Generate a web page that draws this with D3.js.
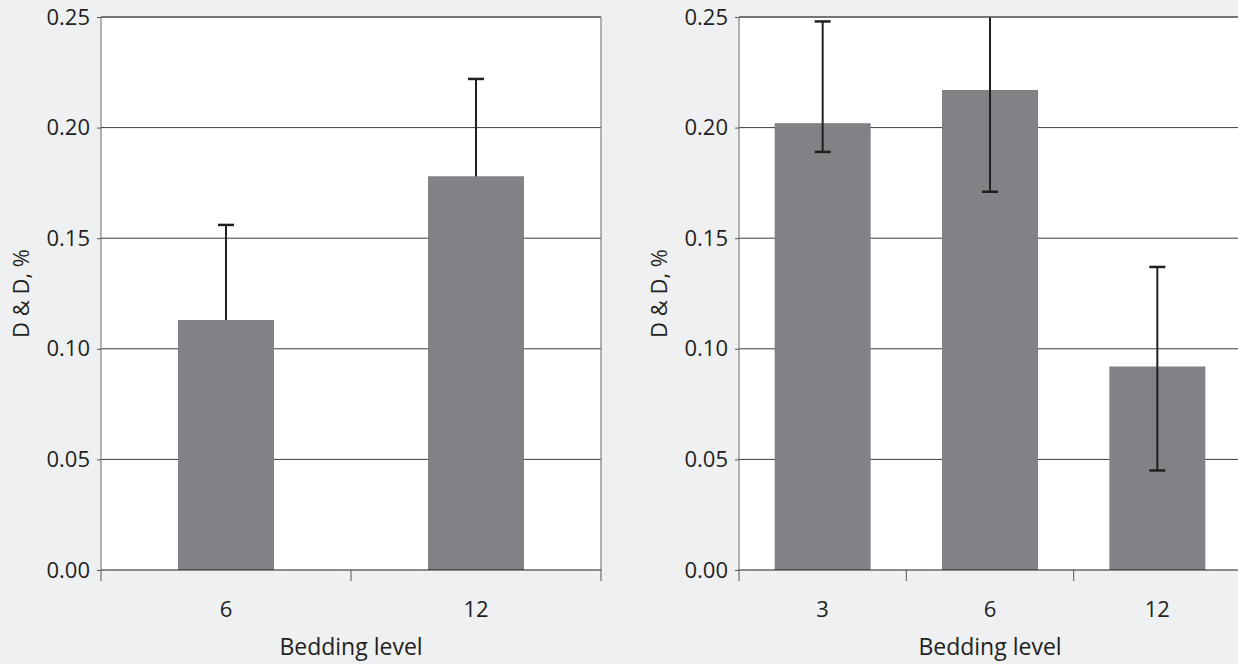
<!DOCTYPE html>
<html>
<head>
<meta charset="utf-8">
<script src="https://cdn.jsdelivr.net/npm/d3@7"></script>
<style>
  html, body { margin: 0; padding: 0; background: #eff0f2; }
  svg { display: block; }
  text { font-family: "Open Sans", Lato, sans-serif; fill: #231f20; }
</style>
</head>
<body>
<svg id="chart" width="1238" height="664"></svg>
<script>
// ---- Data ----
const yTicks = [0.00, 0.05, 0.10, 0.15, 0.20, 0.25];
const yTitle = "D & D, %";
const xTitle = "Bedding level";

const leftCategories = ["6", "12"];
const leftMeans = [0.113, 0.178];
const leftUpper = [0.156, 0.222];
const leftLower = [0.070, 0.134];

const rightCategories = ["3", "6", "12"];
const rightMeans = [0.202, 0.217, 0.092];
const rightUpper = [0.248, 0.265, 0.137];
const rightLower = [0.189, 0.171, 0.045];

// ---- Layout ----
const plotTop = 17, plotBottom = 570;
const barW = 96, capW = 16;
const tickFont = "22px", titleFont = "23px";
const panels = [
  { x0: 101, x1: 601, cats: leftCategories, means: leftMeans, up: leftUpper, lo: leftLower, errOnTop: false, rightBorder: true },
  { x0: 739, x1: 1241, cats: rightCategories, means: rightMeans, up: rightUpper, lo: rightLower, errOnTop: true, rightBorder: false }
];

const svg = d3.select("#chart");
const y = d3.scaleLinear().domain([0, 0.25]).range([plotBottom, plotTop]);

panels.forEach((p, pi) => {
  const g = svg.append("g");
  const x = d3.scaleBand().domain(p.cats).range([p.x0, p.x1]).padding(0);

  g.append("rect").attr("x", p.x0).attr("y", plotTop)
    .attr("width", p.x1 - p.x0).attr("height", plotBottom - plotTop)
    .attr("fill", "#ffffff");

  const clipId = "clip" + pi;
  svg.append("clipPath").attr("id", clipId).append("rect")
    .attr("x", p.x0).attr("y", plotTop).attr("width", p.x1 - p.x0).attr("height", plotBottom - plotTop);

  g.selectAll(".grid").data(yTicks.filter(t => t > 0 && t < 0.25)).enter()
    .append("line")
    .attr("x1", p.x0).attr("x2", p.x1)
    .attr("y1", d => y(d)).attr("y2", d => y(d))
    .attr("stroke", "#3a3a3a").attr("stroke-width", 1);

  const data = p.cats.map((c, i) => ({ c, m: p.means[i], u: p.up[i], l: p.lo[i] }));
  const plot = g.append("g").attr("clip-path", `url(#${clipId})`);
  const cx = d => x(d.c) + x.bandwidth() / 2;

  const drawErr = () => {
    const e = plot.selectAll(".err" + pi).data(data).enter().append("g");
    e.append("line")
      .attr("x1", cx).attr("x2", cx)
      .attr("y1", d => y(d.l)).attr("y2", d => y(d.u))
      .attr("stroke", "#231f20").attr("stroke-width", 2);
    e.append("line")
      .attr("x1", d => cx(d) - capW / 2).attr("x2", d => cx(d) + capW / 2)
      .attr("y1", d => y(d.u)).attr("y2", d => y(d.u))
      .attr("stroke", "#231f20").attr("stroke-width", 2.5);
    e.append("line")
      .attr("x1", d => cx(d) - capW / 2).attr("x2", d => cx(d) + capW / 2)
      .attr("y1", d => y(d.l)).attr("y2", d => y(d.l))
      .attr("stroke", "#231f20").attr("stroke-width", 2.5);
  };
  const drawBars = () => {
    plot.selectAll(".bar" + pi).data(data).enter().append("rect")
      .attr("x", d => cx(d) - barW / 2)
      .attr("width", barW)
      .attr("y", d => y(d.m))
      .attr("height", d => y(0) - y(d.m))
      .attr("fill", "#818286");
  };
  if (p.errOnTop) { drawBars(); drawErr(); } else { drawErr(); drawBars(); }

  g.append("line").attr("x1", p.x0).attr("x2", p.x1).attr("y1", plotTop).attr("y2", plotTop)
    .attr("stroke", "#4a4a4a").attr("stroke-width", 1.6);
  g.append("line").attr("x1", p.x0).attr("x2", p.x0).attr("y1", plotTop).attr("y2", plotBottom)
    .attr("stroke", "#6a6a6a").attr("stroke-width", 1);
  if (p.rightBorder) {
    g.append("line").attr("x1", p.x1).attr("x2", p.x1).attr("y1", plotTop).attr("y2", plotBottom)
      .attr("stroke", "#6a6a6a").attr("stroke-width", 1);
  }

  const yAxis = d3.axisLeft(y).tickValues(yTicks).tickFormat(d3.format(".2f")).tickSize(4).tickPadding(7);
  const ya = g.append("g").attr("transform", `translate(${p.x0},0)`).call(yAxis);
  ya.select(".domain").remove();
  ya.selectAll(".tick line").attr("stroke", "#555");
  ya.selectAll("text").style("font-size", tickFont).attr("fill", "#231f20")
    .style("font-family", "'Open Sans', Lato, sans-serif");

  g.append("line").attr("x1", p.x0).attr("x2", p.x1).attr("y1", plotBottom).attr("y2", plotBottom)
    .attr("stroke", "#231f20").attr("stroke-width", 1.2);
  const bounds = p.cats.map(c => x(c)).concat([x(p.cats[p.cats.length - 1]) + x.bandwidth()]);
  g.selectAll(".xt" + pi).data(bounds).enter().append("line")
    .attr("x1", d => d).attr("x2", d => d)
    .attr("y1", plotBottom).attr("y2", plotBottom + 11)
    .attr("stroke", "#555").attr("stroke-width", 1);

  g.selectAll(".xl" + pi).data(p.cats).enter().append("text")
    .attr("x", d => x(d) + x.bandwidth() / 2).attr("y", 617)
    .attr("text-anchor", "middle").style("font-size", tickFont).text(d => d);

  g.append("text").attr("x", (p.x0 + p.x1) / 2).attr("y", 655)
    .attr("text-anchor", "middle").style("font-size", titleFont).text(xTitle);

  g.append("text")
    .attr("transform", `translate(${p.x0 - 72},${(plotTop + plotBottom) / 2}) rotate(-90)`)
    .attr("text-anchor", "middle").style("font-size", tickFont).text(yTitle);
});
</script>
</body>
</html>
